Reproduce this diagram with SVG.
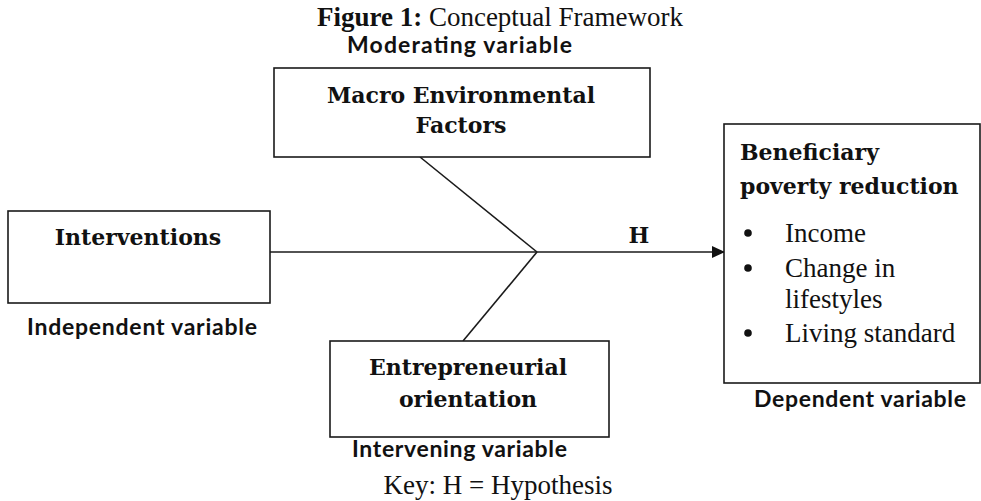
<svg xmlns="http://www.w3.org/2000/svg" width="981" height="501" viewBox="0 0 981 501">
<style>
.box{fill:#fff;stroke:#1a1a1a;stroke-width:1.6}
.ln{stroke:#1a1a1a;stroke-width:1.6;fill:none}
.bs{font-family:"DejaVu Serif","Liberation Serif",serif;font-weight:bold;font-size:22px;fill:#111}
.rs{font-family:"Liberation Serif",serif;font-size:27px;fill:#111}
.lab{font-family:Lato,"Liberation Sans",sans-serif;font-weight:bold;font-size:23px;fill:#111}
</style>
<defs>
<marker id="ah" markerWidth="13" markerHeight="12" refX="12" refY="6" orient="auto" markerUnits="userSpaceOnUse">
<path d="M0,0 L13,6 L0,12 Z" fill="#111"/>
</marker>
</defs>
<text x="500" y="26" text-anchor="middle" class="rs" font-size="26"><tspan font-weight="bold">Figure 1:</tspan> Conceptual Framework</text>
<g id="connectors">
<line class="ln" x1="270" y1="252" x2="537" y2="252"/>
<line class="ln" x1="420" y1="157" x2="537" y2="252"/>
<line class="ln" x1="463" y1="341" x2="537" y2="252"/>
<line class="ln" x1="537" y1="252" x2="724" y2="252" marker-end="url(#ah)"/>
<text x="639" y="243" text-anchor="middle" class="bs">H</text>
</g>
<g id="macro">
<text x="347" y="53" class="lab" textLength="225" lengthAdjust="spacing">Moderating variable</text>
<rect class="box" x="274" y="68" width="376" height="89"/>
<text x="461" y="103" text-anchor="middle" class="bs">Macro Environmental</text>
<text x="461" y="133" text-anchor="middle" class="bs">Factors</text>
</g>
<g id="interventions">
<rect class="box" x="8" y="211" width="262" height="92"/>
<text x="138" y="245" text-anchor="middle" class="bs" font-size="21">Interventions</text>
<text x="27" y="335" class="lab" textLength="230" lengthAdjust="spacing">Independent variable</text>
</g>
<g id="entrepreneurial">
<rect class="box" x="330" y="341" width="279" height="96"/>
<text x="468" y="375" text-anchor="middle" class="bs">Entrepreneurial</text>
<text x="468" y="407" text-anchor="middle" class="bs">orientation</text>
<text x="352" y="457" class="lab" textLength="215" lengthAdjust="spacing">Intervening variable</text>
</g>
<g id="beneficiary">
<rect class="box" x="724" y="124" width="256" height="259"/>
<text x="740" y="160" class="bs">Beneficiary</text>
<text x="740" y="194" class="bs">poverty reduction</text>
<circle cx="748" cy="233" r="3.8" fill="#111"/>
<text x="785" y="242" class="rs">Income</text>
<circle cx="748" cy="268" r="3.8" fill="#111"/>
<text x="785" y="277" class="rs">Change in</text>
<text x="785" y="308" class="rs">lifestyles</text>
<circle cx="748" cy="333" r="3.8" fill="#111"/>
<text x="785" y="342" class="rs">Living standard</text>
<text x="754" y="407" class="lab" textLength="212" lengthAdjust="spacing">Dependent variable</text>
</g>
<text x="498" y="494" text-anchor="middle" class="rs" font-size="26.5">Key: H = Hypothesis</text>
</svg>
